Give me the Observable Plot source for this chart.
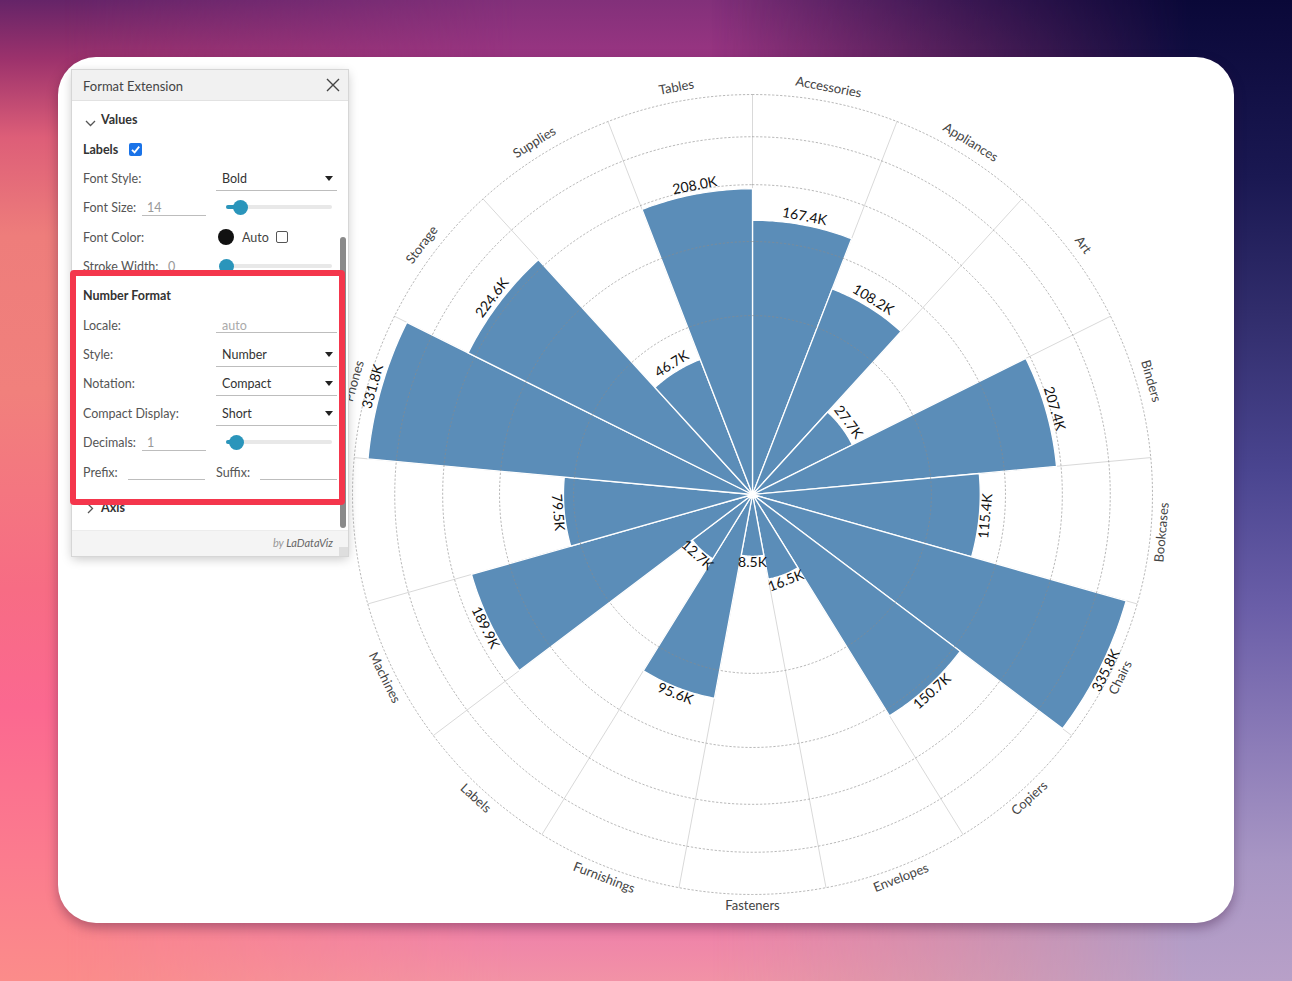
<!DOCTYPE html>
<html>
<head>
<meta charset="utf-8">
<script src="https://cdn.jsdelivr.net/npm/d3@7"></script>
<script src="https://cdn.jsdelivr.net/npm/@observablehq/plot@0.6"></script>
<style>
html, body { margin: 0; padding: 0; width: 1292px; height: 981px; overflow: hidden; font-family: Lato, "Open Sans", sans-serif; }
.bg { position: absolute; left: 0; top: 0; width: 1292px; height: 981px; }
#bgL { background: linear-gradient(to bottom, #652468 0%, #9c326c 6%, #dd5e78 14%, #ee7d7b 24%, #f1807c 40%, #f76c84 60%, #fb6890 72%, #fb7c8e 88%, #fb8c8a 100%); }
#bgM { background: linear-gradient(to bottom, #82307a 0%, #9a3582 6%, #b04a86 30%, #d86a9a 70%, #ee80aa 94%, #f292a6 100%);
  -webkit-mask-image: linear-gradient(to right, transparent 5%, #000 40%, #000 55%, transparent 90%);
  mask-image: linear-gradient(to right, transparent 5%, #000 40%, #000 55%, transparent 90%); }
#bgR { background: linear-gradient(to bottom, #0a0838 0%, #1a1852 18%, #312d6c 32%, #4a4590 48%, #6a5ea8 62%, #8c7cb8 76%, #a896c4 88%, #b8a0c8 100%);
  -webkit-mask-image: linear-gradient(to right, transparent 55%, #000 92%);
  mask-image: linear-gradient(to right, transparent 55%, #000 92%); }
#card { position: absolute; left: 58px; top: 57px; width: 1176px; height: 866px; background: #fff; border-radius: 38px; box-shadow: 0 5px 12px rgba(50, 10, 50, 0.35); }
#chart { position: absolute; left: 302px; top: 44px; width: 900px; height: 900px; }
#panel { position: absolute; left: 72px; top: 70px; width: 276px; height: 486px; background: #fff; box-shadow: 0 0 0 1px #d6d6d6, 0 3px 10px rgba(0,0,0,0.22); overflow: hidden; color: #555; font-size: 12.5px; }
#panel .a { position: absolute; white-space: nowrap; line-height: 16px; }
#redbox { position: absolute; left: 70px; top: 270px; width: 275px; height: 235px; box-sizing: border-box; border: 6px solid #f4364c; border-radius: 4px; }
</style>
</head>
<body>
<div class="bg" id="bgL"></div>
<div class="bg" id="bgM"></div>
<div class="bg" id="bgR"></div>
<div id="card"></div>
<div id="chart"></div>
<div id="panel"></div>
<div id="redbox"></div>
<script>
// ---------- data ----------
const categories = ["Accessories", "Appliances", "Art", "Binders", "Bookcases", "Chairs", "Copiers", "Envelopes", "Fasteners", "Furnishings", "Labels", "Machines", "Paper", "Phones", "Storage", "Supplies", "Tables"];
const salesK = [167.4, 108.2, 27.7, 207.4, 115.4, 335.8, 150.7, 16.5, 8.5, 95.6, 12.7, 189.9, 79.5, 331.8, 224.6, 46.7, 208.0];
const valueLabels = salesK.map(v => v.toFixed(1) + "K");
const domainMaxK = 356;
const ringValuesK = [71.2, 142.4, 213.6, 284.8, 356];

// ---------- geometry via Plot scales ----------
const R = 400;
const rs = Plot.scale({r: {type: "sqrt", domain: [0, domainMaxK], range: [0, R]}});
const n = categories.length, step = 2 * Math.PI / n;
const pt = (rad, a) => [rad * Math.sin(a), rad * Math.cos(a)];
const rotOf = a => { const d = a * 180 / Math.PI; if (d > 90 && d < 270) return d - 180; if (d >= 270) return d - 360; return d; };

const wedges = categories.flatMap((c, i) => {
  const rr = rs.apply(salesK[i]);
  const pts = [{cat: c, x: 0, y: 0}];
  for (let k = 0; k <= 30; k++) {
    const [x, y] = pt(rr, i * step + k / 30 * step);
    pts.push({cat: c, x, y});
  }
  return pts;
});
const spokes = categories.map((c, i) => { const [x, y] = pt(R, i * step); return {x1: 0, y1: 0, x2: x, y2: y}; });
const rings = ringValuesK.flatMap(v => {
  const rr = rs.apply(v), out = [];
  for (let k = 0; k < 240; k++) { const [x, y] = pt(rr, k / 240 * 2 * Math.PI); out.push({ring: v, x, y}); }
  return out;
});
const catLabels = categories.map((c, i) => {
  const a = (i + 0.5) * step, up = Math.cos(a) >= 0;
  const [x, y] = pt(up ? R + 10 : R + 6, a);
  return {text: c, x, y, rot: rotOf(a), up};
});
const valLabels = categories.map((c, i) => {
  const a = (i + 0.5) * step, up = Math.cos(a) >= 0;
  const [x, y] = pt(rs.apply(salesK[i]) + (up ? 4 : 1), a);
  return {text: valueLabels[i], x, y, rot: rotOf(a), up};
});

const chart = Plot.plot({
  width: 900, height: 900, margin: 0,
  x: {domain: [-450, 450], axis: null},
  y: {domain: [-450, 450], axis: null},
  style: {background: "transparent", fontFamily: "Lato, sans-serif", overflow: "visible"},
  marks: [
    Plot.link(spokes, {x1: "x1", y1: "y1", x2: "x2", y2: "y2", stroke: "#d9d9d9", strokeWidth: 1}),
    Plot.line(wedges, {x: "x", y: "y", z: "cat", fill: "#5b8db8", stroke: "#ffffff", strokeWidth: 1.3, curve: "linear-closed"}),
    Plot.line(rings, {x: "x", y: "y", z: "ring", stroke: "#8a8a8a", strokeOpacity: 0.6, strokeWidth: 1, strokeDasharray: "1.5,2.5", curve: "linear-closed"}),
    Plot.text(catLabels.filter(d => d.up), {x: "x", y: "y", text: "text", rotate: "rot", lineAnchor: "bottom", fontSize: 13, fill: "#444"}),
    Plot.text(catLabels.filter(d => !d.up), {x: "x", y: "y", text: "text", rotate: "rot", lineAnchor: "top", fontSize: 13, fill: "#444"}),
    Plot.text(valLabels.filter(d => d.up), {x: "x", y: "y", text: "text", rotate: "rot", lineAnchor: "bottom", fontSize: 14, fill: "#111"}),
    Plot.text(valLabels.filter(d => !d.up), {x: "x", y: "y", text: "text", rotate: "rot", lineAnchor: "top", fontSize: 14, fill: "#111"})
  ]
});
document.getElementById("chart").appendChild(chart);

// ---------- format extension panel (UI screenshot overlay) ----------
const panel = document.getElementById("panel");
const PX = 72, PY = 70;
function el(css, html) { const d = document.createElement("div"); d.style.cssText = "position:absolute;" + css; if (html) d.innerHTML = html; panel.appendChild(d); return d; }
function txt(x, y, s, extra) { const d = el(`left:${x - PX}px;top:${y - PY - 7}px;${extra || ""}`, s); d.className = "a"; return d; }
function uline(x1, x2, y) { el(`left:${x1 - PX}px;top:${y - PY}px;width:${x2 - x1}px;height:1px;background:#bdbdbd;`); }
function tri(x, y) { el(`left:${x - PX - 4}px;top:${y - PY - 2}px;width:0;height:0;border-left:4px solid transparent;border-right:4px solid transparent;border-top:5px solid #222;`); }
function dot(cx, cy, r, color) { el(`left:${cx - PX - r}px;top:${cy - PY - r}px;width:${2 * r}px;height:${2 * r}px;border-radius:50%;background:${color};`); }
function slider(y, kx) {
  el(`left:${226 - PX}px;top:${y - PY - 2}px;width:106px;height:4px;border-radius:2px;background:#e8e8e8;`);
  el(`left:${226 - PX}px;top:${y - PY - 2}px;width:${kx - 226}px;height:4px;border-radius:2px;background:#2a95bb;`);
  dot(kx, y, 7.5, "#2a95bb");
}
function select(y, s) { txt(222, y, s, "color:#333;"); uline(216, 337, y + 12); tri(329, y); }

// hidden color dot under header
dot(226, 93, 8, "#111");
// header
el(`left:0;top:0;width:276px;height:30px;background:#f1f1f1;border-bottom:1px solid #e2e2e2;`);
txt(83, 85, "Format Extension", "color:#444;font-size:13px;");
el(`left:${326 - PX}px;top:${78 - PY}px;width:14px;height:14px;`, '<svg width="14" height="14"><path d="M1 1 L13 13 M13 1 L1 13" stroke="#444" stroke-width="1.4"/></svg>');

// Values section
el(`left:${85 - PX}px;top:${115 - PY}px;width:11px;height:7px;`, '<svg width="11" height="7"><polyline points="1,1 5.5,5.5 10,1" fill="none" stroke="#555" stroke-width="1.3"/></svg>');
txt(101, 119, "Values", "font-weight:700;color:#333;font-size:12.5px;");
txt(83, 149, "Labels", "font-weight:700;color:#333;");
el(`left:${129 - PX}px;top:${143 - PY}px;width:13px;height:13px;border-radius:2px;background:#1a73e8;`, '<svg width="13" height="13" style="display:block"><polyline points="3,6.8 5.6,9.4 10.2,3.6" fill="none" stroke="#fff" stroke-width="1.8"/></svg>');
txt(83, 178, "Font Style:"); select(178, "Bold");
txt(83, 207, "Font Size:"); txt(147, 207, "14", "color:#999;"); uline(142, 206, 215); slider(207, 240);
txt(83, 237, "Font Color:"); dot(226, 237, 8, "#111"); txt(242, 237, "Auto", "color:#444;");
el(`left:${276 - PX}px;top:${231 - PY}px;width:10px;height:10px;border:1.5px solid #555;border-radius:2px;`);
txt(83, 266, "Stroke Width:"); txt(168, 266, "0", "color:#999;"); slider(266, 226);

// Number format section
txt(83, 295, "Number Format", "font-weight:700;color:#333;");
txt(83, 325, "Locale:"); txt(222, 325, "auto", "color:#aaa;"); uline(216, 337, 332);
txt(83, 354, "Style:"); select(354, "Number");
txt(83, 383, "Notation:"); select(383, "Compact");
txt(83, 413, "Compact Display:"); select(413, "Short");
txt(83, 442, "Decimals:"); txt(147, 442, "1", "color:#999;"); uline(142, 206, 450); slider(442, 236);
txt(83, 472, "Prefix:"); uline(128, 205, 479);
txt(216, 472, "Suffix:"); uline(260, 337, 479);

// Axis section
el(`left:${87 - PX}px;top:${502 - PY}px;width:7px;height:11px;`, '<svg width="7" height="11"><polyline points="1,1 5.5,5.5 1,10" fill="none" stroke="#555" stroke-width="1.3"/></svg>');
txt(101, 507, "Axis", "font-weight:700;color:#333;");

// scrollbar
el(`left:${340 - PX}px;top:${237 - PY}px;width:6px;height:291px;border-radius:3px;background:#8a8a8a;`);

// footer
el(`left:0;top:${530 - PY}px;width:276px;height:26px;background:#f4f4f4;border-top:1px solid #ececec;`);
el(`right:${348 - 333}px;top:${543 - PY - 8}px;line-height:16px;font-size:11px;font-style:italic;color:#999;white-space:nowrap;`, 'by <span style="color:#666">LaDataViz</span>');
el(`left:${339 - PX}px;top:${547 - PY}px;width:9px;height:9px;background:#dedede;`);
</script>
</body>
</html>
